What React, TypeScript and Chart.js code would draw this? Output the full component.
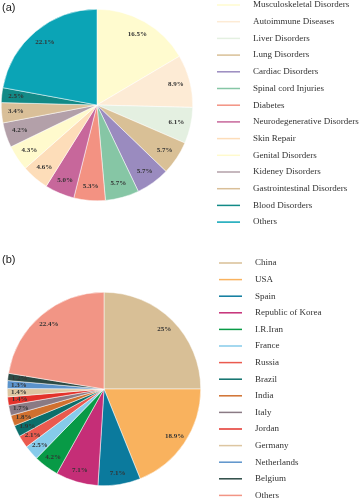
import React, { useEffect, useRef } from "react";
import { Chart, registerables } from "chart.js";

Chart.register(...registerables);

const diseaseLabels = [
  "Musculoskeletal Disorders",
  "Autoimmune Diseases",
  "Liver Disorders",
  "Lung Disorders",
  "Cardiac Disorders",
  "Spinal cord Injuries",
  "Diabetes",
  "Neurodegenerative Disorders",
  "Skin Repair",
  "Genital Disorders",
  "Kideney Disorders",
  "Gastrointestinal Disorders",
  "Blood Disorders",
  "Others",
];
const diseaseValues = [16.5, 8.9, 6.1, 5.7, 5.7, 5.7, 5.3, 5.0, 4.6, 4.3, 4.2, 3.4, 2.5, 22.1];
const diseaseText = ["16.5%", "8.9%", "6.1%", "5.7%", "5.7%", "5.7%", "5.3%", "5.0%", "4.6%", "4.3%", "4.2%", "3.4%", "2.5%", "22.1%"];
const diseaseColors = [
  "#FFFBCF", "#FDEBD5", "#E4F0E1", "#D9C096", "#9A8BBF", "#86C6A5", "#F39282",
  "#C7679B", "#FDDDB9", "#FFFACD", "#B3A0A9", "#D9BF98", "#128A87", "#0BA4B6",
];

const countryLabels = [
  "China", "USA", "Spain", "Republic of Korea", "I.R.Iran", "France", "Russia",
  "Brazil", "India", "Italy", "Jordan", "Germany", "Netherlands", "Belgium", "Others",
];
const countryValues = [25, 18.9, 7.1, 7.1, 4.2, 2.5, 2.1, 1.9, 1.8, 1.7, 1.4, 1.4, 1.3, 1.2, 22.4];
const countryText = ["25%", "18.9%", "7.1%", "7.1%", "4.2%", "2.5%", "2.1%", "1.9%", "1.8%", "1.7%", "1.4%", "1.4%", "1.3%", "1.2%", "22.4%"];
const countryColors = [
  "#D8BF96", "#F9B25E", "#0B7A9D", "#C52E77", "#089A46", "#86CBEA", "#EA5A4F",
  "#0C6F6B", "#D0702F", "#8A7A84", "#E3322B", "#DDC6A1", "#5B93CB", "#2C4A45", "#F29585",
];

function makePlugin(texts: string[], labelR: number, legendX: number, legendY: number, legendStep: number) {
  return {
    id: "custom",
    afterDatasetsDraw(chart: any) {
      const ctx = chart.ctx;
      const meta = chart.getDatasetMeta(0);
      ctx.save();
      ctx.font = "bold 7px 'Liberation Serif', serif";
      ctx.fillStyle = "#333";
      ctx.textAlign = "center";
      ctx.textBaseline = "middle";
      meta.data.forEach((arc: any, i: number) => {
        const { x, y, startAngle, endAngle, outerRadius } = arc.getProps(
          ["x", "y", "startAngle", "endAngle", "outerRadius"], true
        );
        const mid = (startAngle + endAngle) / 2;
        const r = outerRadius * labelR;
        ctx.fillText(texts[i], x + Math.cos(mid) * r, y + Math.sin(mid) * r);
      });
      // legend
      const labels = chart.data.labels;
      const colors = chart.data.datasets[0].backgroundColor;
      ctx.textAlign = "left";
      ctx.font = "9px 'Liberation Serif', serif";
      labels.forEach((lab: string, i: number) => {
        const yy = legendY + i * legendStep;
        ctx.strokeStyle = colors[i];
        ctx.lineWidth = 1.5;
        ctx.beginPath();
        ctx.moveTo(legendX, yy);
        ctx.lineTo(legendX + 23, yy);
        ctx.stroke();
        ctx.fillStyle = "#333";
        ctx.fillText(lab, legendX + 36, yy);
      });
      ctx.restore();
    },
  };
}

function PieChart(props: {
  labels: string[]; values: number[]; colors: string[]; texts: string[];
  height: number; padding: any; labelR: number; legendX: number; legendY: number; legendStep: number;
}) {
  const ref = useRef<HTMLCanvasElement>(null);
  useEffect(() => {
    const chart = new Chart(ref.current!, {
      type: "pie",
      data: {
        labels: props.labels,
        datasets: [{
          data: props.values,
          backgroundColor: props.colors,
          borderColor: "#ffffff",
          borderWidth: 0.5,
        }],
      },
      options: {
        animation: false,
        responsive: false,
        maintainAspectRatio: false,
        layout: { padding: props.padding },
        plugins: { legend: { display: false }, tooltip: { enabled: false } },
      },
      plugins: [makePlugin(props.texts, props.labelR, props.legendX, props.legendY, props.legendStep)],
    });
    return () => chart.destroy();
  }, []);
  return <canvas ref={ref} width={360} height={props.height} style={{ display: "block", width: 360, height: props.height }} />;
}

export default function App() {
  return (
    <div style={{ position: "absolute", left: 0, top: 0, width: 360, height: 500, background: "#fff" }}>
      <div style={{ position: "absolute", left: 0, top: 0 }}>
        <PieChart
          labels={diseaseLabels} values={diseaseValues} colors={diseaseColors} texts={diseaseText}
          height={240} padding={{ left: 1, top: 9, right: 167, bottom: 39 }}
          labelR={0.85} legendX={217} legendY={5} legendStep={16.7}
        />
      </div>
      <div style={{ position: "absolute", left: 0, top: 240 }}>
        <PieChart
          labels={countryLabels} values={countryValues} colors={countryColors} texts={countryText}
          height={260} padding={{ left: 7, top: 52, right: 159, bottom: 14 }}
          labelR={0.88} legendX={219} legendY={23} legendStep={16.6}
        />
      </div>
      <div style={{ position: "absolute", left: 2, top: 1, font: "11px 'Liberation Sans', Arial, sans-serif", color: "#222" }}>(a)</div>
      <div style={{ position: "absolute", left: 2, top: 253, font: "11px 'Liberation Sans', Arial, sans-serif", color: "#222" }}>(b)</div>
    </div>
  );
}
